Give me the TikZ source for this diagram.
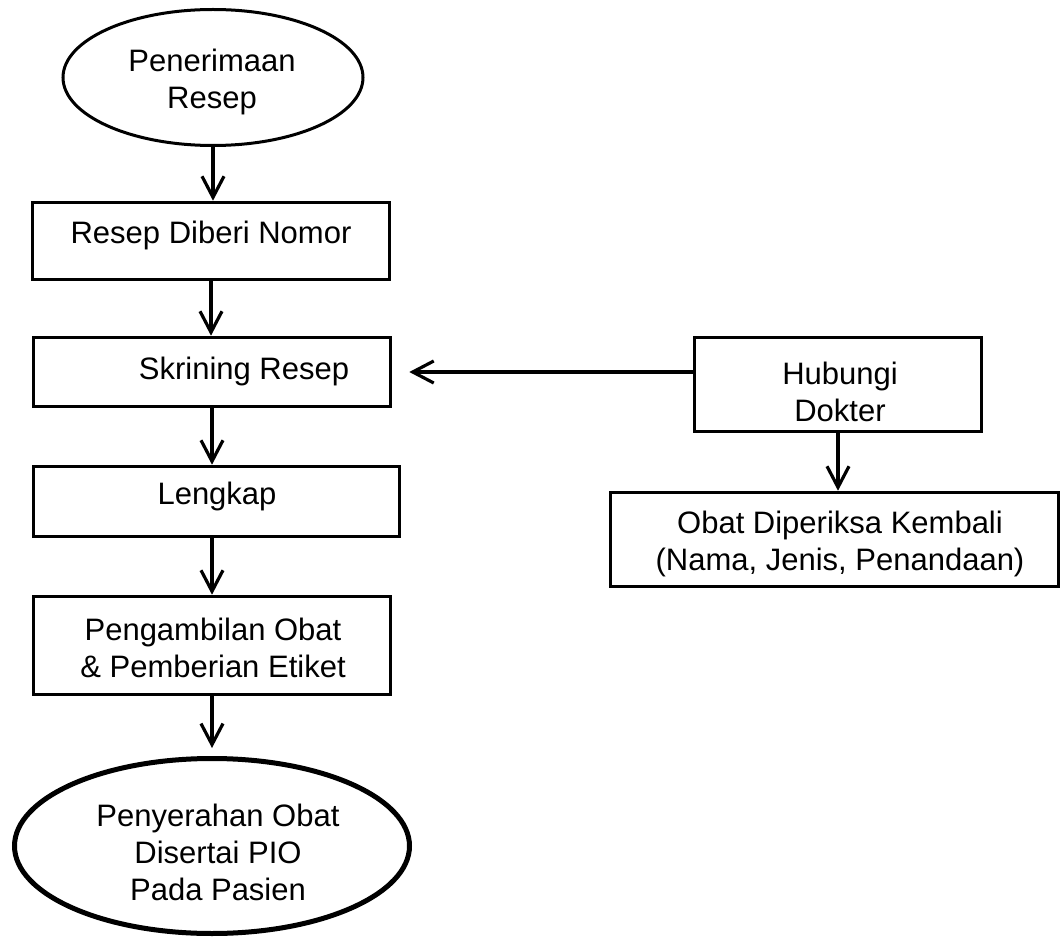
\documentclass[tikz,border=0pt]{standalone}
\usepackage{fontspec}
\setmainfont{Liberation Sans}
\usetikzlibrary{shapes.geometric,arrows.meta}
\begin{document}
\begin{tikzpicture}[x=1pt,y=-1pt,
  box/.style={draw, line width=3.6pt, rectangle, inner sep=0pt},
  oval/.style={draw, ellipse, inner sep=0pt},
  lbl/.style={align=center, font=\fontsize{31}{37}\selectfont, inner sep=0pt},
  arr/.style={-{Straight Barb[length=21pt,width=22pt]}, line width=3.2pt}]
\useasboundingbox (0,0) rectangle (1063,941);
% shapes
\node[oval, line width=3pt, minimum width=300pt, minimum height=136pt] (e1) at (213,77.5) {};
\node[box, minimum width=357pt, minimum height=77pt] (b1) at (211,241) {};
\node[box, minimum width=357pt, minimum height=69pt] (b2) at (212,372) {};
\node[box, minimum width=366pt, minimum height=70pt] (b3) at (216.5,501.5) {};
\node[box, minimum width=357pt, minimum height=98pt] (b4) at (212,645.5) {};
\node[oval, line width=5pt, minimum width=395pt, minimum height=175pt] (e2) at (212,846) {};
\node[box, minimum width=287pt, minimum height=94pt] (h) at (838,384.5) {};
\node[box, minimum width=448pt, minimum height=94pt] (o) at (834.5,539.5) {};
% texts
\node[lbl] (t0) at (212,82) {Penerimaan\\Resep};
\node[lbl] (t1) at (211,235) {Resep Diberi Nomor};
\node[lbl] (t2) at (244,371) {Skrining Resep};
\node[lbl] (t3) at (217,496) {Lengkap};
\node[lbl] (t4) at (213,648) {Pengambilan Obat\\\& Pemberian Etiket};
\node[lbl] (t5) at (218,852) {Penyerahan Obat\\Disertai PIO\\Pada Pasien};
\node[lbl] (t6) at (840,392) {Hubungi\\Dokter};
\node[lbl] (t7) at (840,544) {Obat Diperiksa Kembali\\(Nama, Jenis, Penandaan)};
% connectors
\draw[arr] (e1.south) -- (e1.south |- b1.north);
\draw[arr] (b1.south) -- (b1.south |- b2.north);
\draw[arr] (b2.south) -- (b2.south |- b3.north);
\draw[arr] (b2.south |- b3.south) -- (b2.south |- b4.north);
\draw[arr, shorten >=8pt] (b4.south) -- (b4.south |- e2.north);
\draw[arr, shorten >=17pt] (h.west |- b2.east) -- (b2.east);
\draw[arr] (h.south) -- (h.south |- o.north);
\end{tikzpicture}
\end{document}
